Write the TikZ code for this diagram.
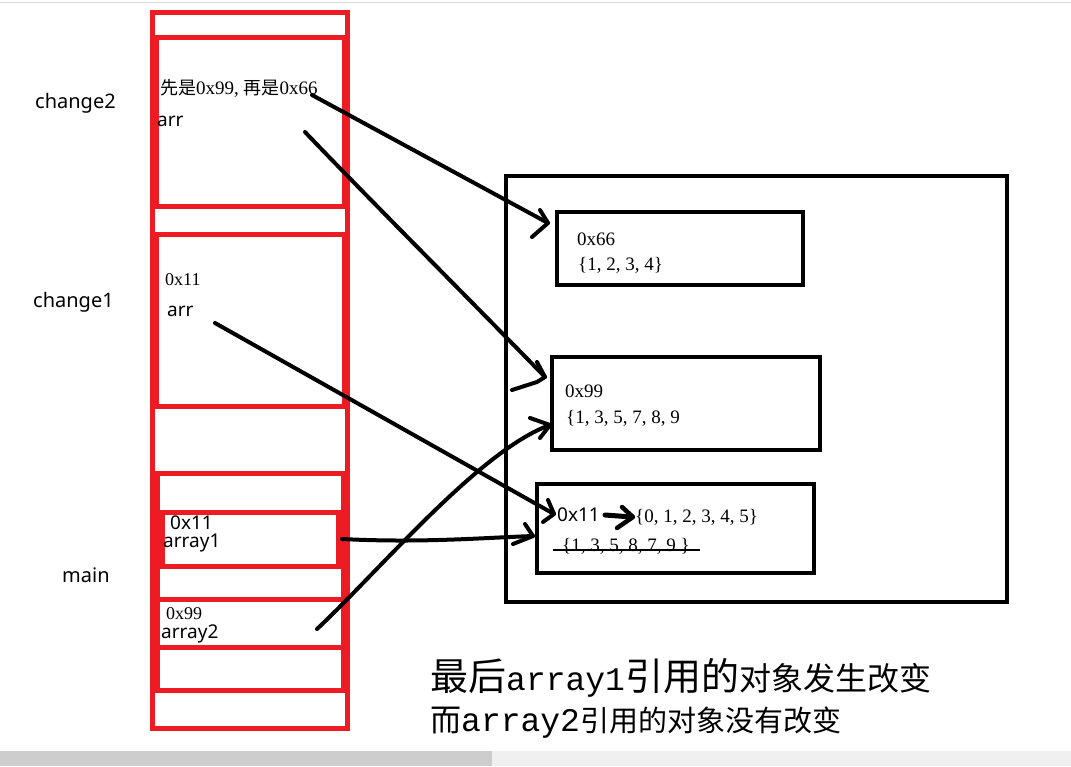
\documentclass[tikz,border=0pt]{standalone}
\usepackage{fontspec}
\setmainfont{Liberation Serif}
\newfontfamily\cjk{Noto Sans CJK SC}
\newfontfamily\uifont{Noto Sans}
\newfontfamily\monofont{Liberation Mono}
\definecolor{paintred}{HTML}{ED1C24}
\definecolor{bardark}{HTML}{CDCDCD}
\definecolor{barlight}{HTML}{F0F0F0}
\definecolor{edgegray}{HTML}{DADADA}
\tikzset{
  stack/.style={draw=paintred, line width=5pt},
  heap/.style={draw=black, line width=4.5pt},
  ptr/.style={line width=4pt, line cap=round, line join=round},
  ui/.style={font=\uifont\fontsize{19}{22}\selectfont, inner sep=0pt, anchor=west},
  song/.style={font=\fontsize{19}{22}\selectfont, inner sep=0pt, anchor=west},
}
\begin{document}
\begin{tikzpicture}[x=1pt,y=-1pt]
    \useasboundingbox (0,0) rectangle (1071,766);

    % window edges
    \draw[edgegray, line width=1pt] (0,2) -- (1071,2);
    \fill[bardark] (0,751) rectangle (492,766);
    \fill[barlight] (492,751) rectangle (1071,766);

    % stack
    \draw[stack] (152,12) rectangle (347,728);
    \draw[stack] (152,37) -- (347,37);
    \draw[stack] (156,37) rectangle (344,206);
    \draw[stack] (156,234) rectangle (344,406);
    \draw[stack] (152,473) -- (347,473);
    \draw[stack] (157,473) rectangle (343,690);
    \draw[stack] (157,512) -- (343,512);
    \draw[stack] (162,512) rectangle (338,566);
    \draw[stack] (157,599) -- (343,599);
    \draw[stack] (157,647) -- (343,647);

    % frame names
    \node[ui, font=\uifont\fontsize{20}{24}\selectfont] (change2) at (35,103) {change2};
    \node[ui, font=\uifont\fontsize{20}{24}\selectfont] (change1) at (33,302) {change1};
    \node[ui, font=\uifont\fontsize{20}{24}\selectfont] (main) at (62,575) {main};

    % change2
    \node[song, font=\fontsize{19}{22}\selectfont] (c2val) at (160,88) {{\cjk\fontsize{18}{22}\selectfont 先是}0x99, {\cjk\fontsize{18}{22}\selectfont 再是}0x66};
    \node[ui] (c2arr) at (157,121) {arr};

    % change1
    \node[song, font=\fontsize{18}{22}\selectfont] (c1val) at (165,280) {0x11};
    \node[ui] (c1arr) at (167,311) {arr};

    % main
    \node[ui] (a1val) at (170,523) {0x11};
    \node[ui] (a1name) at (163,543) {array1};
    \node[song, font=\fontsize{18}{22}\selectfont] (a2val) at (166,614) {0x99};
    \node[ui] (a2name) at (161,634) {array2};

    % heap
    \draw[heap] (506,176) rectangle (1007,602);
    \draw[heap] (557,212) rectangle (803,285);
    \draw[heap] (552,357) rectangle (820,450);
    \draw[heap] (537,484) rectangle (814,573);

    % 0x66
    \node[song] (addr66) at (577,239) {0x66};
    \node[song] (val66) at (578,265) {\{1, 2, 3, 4\}};

    % 0x99
    \node[song] (addr99) at (565,391) {0x99};
    \node[song] (val99) at (566,418) {\{1, 3, 5, 7, 8, 9};

    % 0x11
    \node[ui] (addr11) at (557,515) {0x11};
    \node[song] (val11) at (635,517) {\{0, 1, 2, 3, 4, 5\}};
    \node[song] (old11) at (562,546) {\{1, 3, 5, 8, 7, 9 \}};
    \draw[line width=1.2pt] (old11.west) ++(-9,4) -- ++(147,0);
    \draw[ptr, line width=5pt] ([xshift=5pt]addr11.east) -- ([xshift=-3pt]val11.west);
    \draw[ptr, line width=4.5pt] ([xshift=-2pt]val11.west) ++(-11,-10) -- ++(11,10) -- ++(-16,11);

    % pointer ends
    \coordinate (tail66) at (312,95);
    \coordinate (tip66) at (548,223);
    \coordinate (tailc2) at (305,132);
    \coordinate (tip99a) at (545,377);
    \coordinate (tailc1) at (215,323);
    \coordinate (tip11a) at (554,514);
    \coordinate (taila1) at (342,539);
    \coordinate (tip11b) at (533,536);
    \coordinate (taila2) at (317,629);
    \coordinate (tip99b) at (550,425);

    % change2 arr -> 0x66, then 0x99
    \draw[ptr] (tail66) -- (tip66);
    \draw[ptr] (tip66) ++(-8,-13) -- ++(8,13) -- ++(-16,14);
    \draw[ptr] (tailc2) .. controls (370,200) and (480,310) .. (tip99a);
    \draw[ptr] (tip99a) ++(-8,-15) -- ++(8,15) -- ++(-8,5) -- ++(-25,8);

    % change1 arr -> 0x11
    \draw[ptr] (tailc1) -- (tip11a);
    \draw[ptr] (tip11a) ++(-6,-14) -- ++(6,14) -- ++(-11,8);

    % array1 -> 0x11
    \draw[ptr] (taila1) .. controls (420,543) and (480,538) .. (tip11b);
    \draw[ptr] (tip11b) ++(-8,-12) -- ++(8,12) -- ++(-20,8);

    % array2 -> 0x99
    \draw[ptr] (taila2) .. controls (380,570) and (480,450) .. (tip99b);
    \draw[ptr] (tip99b) ++(-20,-7) -- ++(20,7) -- ++(-10,13);

    % note
    \node[anchor=west, inner sep=0pt] (note1) at (430,678)
      {{\cjk\fontsize{38}{44}\selectfont 最后}{\monofont\fontsize{33}{40}\selectfont array1}{\cjk\fontsize{38}{44}\selectfont 引用的}{\cjk\fontsize{32}{40}\selectfont 对象发生改变}};
    \node[anchor=west, inner sep=0pt] (note2) at (430,723)
      {{\cjk\fontsize{31}{40}\selectfont 而}{\monofont\fontsize{33}{40}\selectfont array2}{\cjk\fontsize{29}{40}\selectfont 引用的对象没有改变}};
\end{tikzpicture}
\end{document}
